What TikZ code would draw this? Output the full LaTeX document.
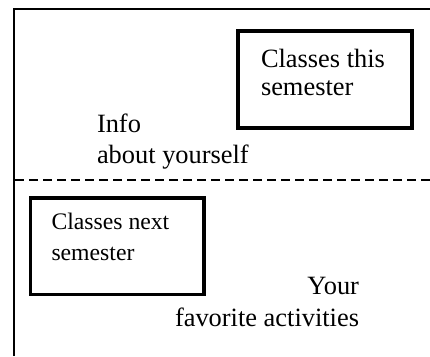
\documentclass[tikz,border=0pt]{standalone}
\usepackage{fontspec}
\setmainfont{Liberation Serif}
\begin{document}
\begin{tikzpicture}[x=1pt,y=-1pt,
  txt/.style={inner sep=0pt,outer sep=0pt,font=\fontsize{26.4}{30}\selectfont},
  smalltxt/.style={inner sep=0pt,outer sep=0pt,font=\fontsize{23.7}{28}\selectfont},
  box/.style={draw,line width=3.6pt,inner sep=0pt},
  frame/.style={line width=2pt},
  divider/.style={line width=2pt,dash pattern=on 8.5pt off 5.5pt}]
\useasboundingbox (0,0) rectangle (430,356);
% outer frame
\draw[frame] (13.8,356) -- (13.8,9) -- (430,9);
% dashed divider
\coordinate (dl) at (15,180);
\coordinate (dr) at (430,180);
\draw[divider] (dl) -- (dr);
% boxes
\node[box,minimum width=174pt,minimum height=97pt] (b1) at (325,79.5) {};
\node[box,minimum width=173.4pt,minimum height=96.7pt] (b2) at (117,246.3) {};
% texts
\node[txt,anchor=base west] (ct1) at (261,67.7) {Classes this};
\node[txt,anchor=base west] (ct2) at (261,95.5) {semester};
\node[txt,anchor=base west] (in1) at (97,132.7) {Info};
\node[txt,anchor=base west] (in2) at (97,163.3) {about yourself};
\node[smalltxt,anchor=base west] (cn1) at (51.5,229.3) {Classes next};
\node[smalltxt,anchor=base west] (cn2) at (51.5,260) {semester};
\node[txt,anchor=base east] (fa1) at (359,294) {Your};
\node[txt,anchor=base east] (fa2) at (359,326.7) {favorite activities};
\end{tikzpicture}
\end{document}
